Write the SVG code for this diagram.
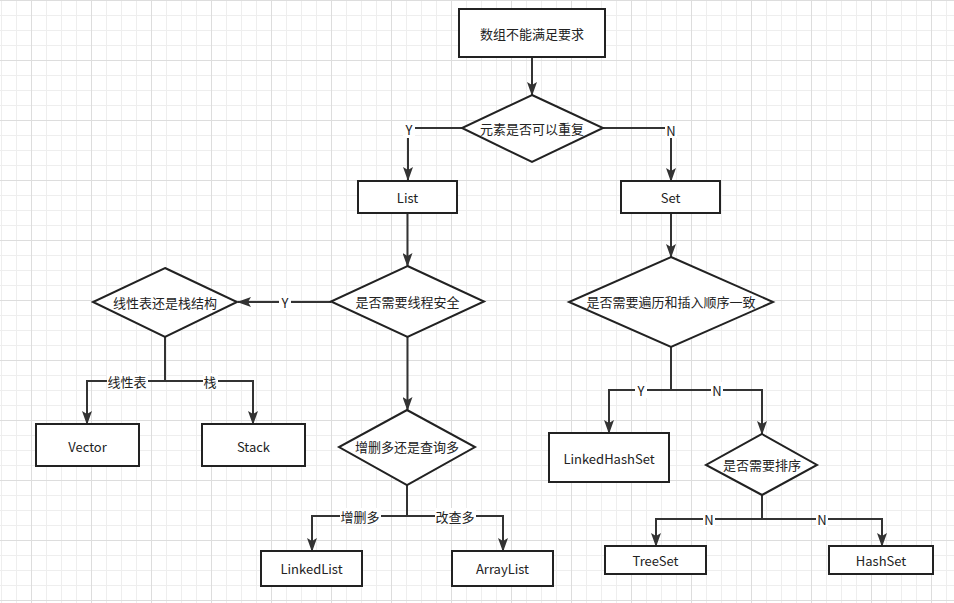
<svg xmlns="http://www.w3.org/2000/svg" width="954" height="603" viewBox="0 0 954 603">
<defs>
<pattern id="grid" x="31" y="0" width="60" height="60" patternUnits="userSpaceOnUse">
<path d="M15.5,0V60M30.5,0V60M45.5,0V60M0,15.5H60M0,30.5H60M0,45.5H60" stroke="#eeeeee" stroke-width="1" fill="none"/>
<path d="M0.5,0V60M0,0.5H60" stroke="#dddddd" stroke-width="1" fill="none"/>
</pattern>
<marker id="arr" viewBox="0 0 14 10" refX="13" refY="5" markerWidth="14" markerHeight="10" markerUnits="userSpaceOnUse" orient="auto">
<path d="M0,0 L14,5 L0,10 L3,5 Z" fill="#333"/>
</marker>
<style>
.n{fill:#fff;stroke:#222;stroke-width:2}
.t{font-family:"Noto Sans CJK SC","Microsoft YaHei",sans-serif;font-size:13px;fill:#222;text-anchor:middle;dominant-baseline:central}
.e{fill:none;stroke:#333;stroke-width:2}
.a{marker-end:url(#arr)}
.lb{fill:#fff}
</style>
</defs>
<rect width="954" height="603" fill="#fff"/>
<rect width="954" height="603" fill="url(#grid)"/>
<g id="connectors">
<path class="e a" d="M532,57V95"/>
<path class="e a" d="M462,128H408V180"/>
<path class="e a" d="M603,128H671V181"/>
<path class="e a" d="M407.5,213V266"/>
<path class="e a" d="M331,302H238"/>
<path class="e a" d="M165,337V381H87V424"/>
<path class="e a" d="M165,381H253V424"/>
<path class="e a" d="M407.5,337V410"/>
<path class="e a" d="M407,485V516H312V551"/>
<path class="e a" d="M407,516H503V551"/>
<path class="e a" d="M671,213V257"/>
<path class="e a" d="M671,347V390H609V433"/>
<path class="e a" d="M671,390H762V434"/>
<path class="e a" d="M762,495V519H656V546"/>
<path class="e a" d="M762,519H882V546"/>
<g id="edge-labels">
<rect class="lb" x="403" y="121" width="12" height="17"/><text class="t" x="409" y="129">Y</text>
<rect class="lb" x="665" y="121" width="12" height="17"/><text class="t" x="671" y="130">N</text>
<rect class="lb" x="279" y="294" width="12" height="16"/><text class="t" x="285" y="302">Y</text>
<rect class="lb" x="107" y="373" width="41" height="16"/><text class="t" x="127" y="381">线性表</text>
<rect class="lb" x="203" y="373" width="15" height="16"/><text class="t" x="210" y="381">栈</text>
<rect class="lb" x="340" y="508" width="41" height="16"/><text class="t" x="360" y="516">增删多</text>
<rect class="lb" x="435" y="508" width="41" height="16"/><text class="t" x="455" y="516">改查多</text>
<rect class="lb" x="635" y="382" width="12" height="16"/><text class="t" x="641" y="390">Y</text>
<rect class="lb" x="711" y="382" width="12" height="16"/><text class="t" x="717" y="390">N</text>
<rect class="lb" x="703" y="511" width="12" height="16"/><text class="t" x="709" y="519">N</text>
<rect class="lb" x="816" y="511" width="12" height="16"/><text class="t" x="822" y="519">N</text>
</g>
</g>
<g id="n-start"><rect class="n" x="459" y="9" width="146" height="48"/><text class="t" x="532" y="33">数组不能满足要求</text></g>
<g id="n-dup"><polygon class="n" points="532,95 603,128 532,162 462,128"/><text class="t" x="532" y="128">元素是否可以重复</text></g>
<g id="n-list"><rect class="n" x="358" y="181" width="99" height="32"/><text class="t" x="407.5" y="197">List</text></g>
<g id="n-set"><rect class="n" x="621" y="181" width="99" height="32"/><text class="t" x="670.5" y="197">Set</text></g>
<g id="n-thread"><polygon class="n" points="407.5,266 484,301.5 407.5,337 331,301.5"/><text class="t" x="407.5" y="301">是否需要线程安全</text></g>
<g id="n-stackq"><polygon class="n" points="165,268 237,302 165,337 93,302"/><text class="t" x="165" y="302">线性表还是栈结构</text></g>
<g id="n-vector"><rect class="n" x="36" y="424" width="103" height="42"/><text class="t" x="87.5" y="446">Vector</text></g>
<g id="n-stack"><rect class="n" x="202" y="424" width="103" height="42"/><text class="t" x="253.5" y="446">Stack</text></g>
<g id="n-ops"><polygon class="n" points="407,410 475,447 407,485 339,447"/><text class="t" x="407" y="446">增删多还是查询多</text></g>
<g id="n-linkedlist"><rect class="n" x="261" y="551" width="101" height="35"/><text class="t" x="311.5" y="568">LinkedList</text></g>
<g id="n-arraylist"><rect class="n" x="452" y="551" width="101" height="35"/><text class="t" x="502.5" y="568">ArrayList</text></g>
<g id="n-order"><polygon class="n" points="671,257 773,302 671,347 569,302"/><text class="t" x="671" y="301">是否需要遍历和插入顺序一致</text></g>
<g id="n-lhs"><rect class="n" x="549" y="433" width="120" height="49"/><text class="t" x="609" y="458">LinkedHashSet</text></g>
<g id="n-sort"><polygon class="n" points="762,434 817,465 762,495 706,465"/><text class="t" x="762" y="464">是否需要排序</text></g>
<g id="n-treeset"><rect class="n" x="605" y="546" width="101" height="28"/><text class="t" x="655.5" y="560">TreeSet</text></g>
<g id="n-hashset"><rect class="n" x="829" y="546" width="104" height="28"/><text class="t" x="881" y="560">HashSet</text></g>
</svg>
